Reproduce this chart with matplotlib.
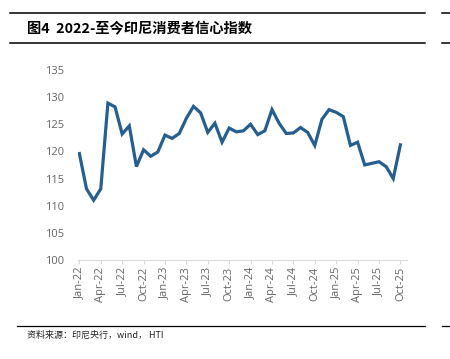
import matplotlib
matplotlib.use("Agg")
import matplotlib.pyplot as plt
from matplotlib.lines import Line2D

plt.rcParams['font.family'] = ['Noto Sans CJK SC', 'DejaVu Sans']

LINE = "#255e91"
GRAY = "#666666"

# Indonesia consumer confidence index, monthly Jan-22 .. Oct-25
months = ["Jan-22", "Feb-22", "Mar-22", "Apr-22", "May-22", "Jun-22", "Jul-22", "Aug-22",
          "Sep-22", "Oct-22", "Nov-22", "Dec-22", "Jan-23", "Feb-23", "Mar-23", "Apr-23",
          "May-23", "Jun-23", "Jul-23", "Aug-23", "Sep-23", "Oct-23", "Nov-23", "Dec-23",
          "Jan-24", "Feb-24", "Mar-24", "Apr-24", "May-24", "Jun-24", "Jul-24", "Aug-24",
          "Sep-24", "Oct-24", "Nov-24", "Dec-24", "Jan-25", "Feb-25", "Mar-25", "Apr-25",
          "May-25", "Jun-25", "Jul-25", "Aug-25", "Sep-25", "Oct-25"]
cci = [119.6, 113.1, 111.0, 113.1, 128.9, 128.2, 123.2, 124.7, 117.2, 120.3, 119.1, 119.9,
       123.0, 122.4, 123.3, 126.1, 128.3, 127.1, 123.5, 125.2, 121.7, 124.3, 123.6, 123.8,
       125.0, 123.1, 123.8, 127.7, 125.2, 123.3, 123.4, 124.4, 123.5, 121.1, 125.9, 127.7,
       127.2, 126.4, 121.1, 121.7, 117.5, 117.8, 118.1, 117.2, 115.0, 121.2]
y_ticks = [100, 105, 110, 115, 120, 125, 130, 135]

title = "图4  2022-至今印尼消费者信心指数"
source = "资料来源：印尼央行，wind， HTI"

fig = plt.figure(figsize=(4.5, 3.59), dpi=100)
ax = fig.add_axes([0.174, 0.276, 0.730, 0.529])

x = list(range(len(months)))
ax.plot(x, cci, color=LINE, linewidth=2.3, solid_joinstyle="miter")

ax.set_ylim(100, 135)
ax.set_yticks(y_ticks)
ax.set_xlim(-0.15, 45.9)
ax.set_xticks(x[::3])
ax.set_xticklabels(months[::3], rotation=90)

for s in ["top", "right", "left"]:
    ax.spines[s].set_visible(False)
ax.spines["bottom"].set_color("#d9d9d9")
ax.spines["bottom"].set_linewidth(0.8)
ax.tick_params(axis="y", length=0, labelsize=8, labelcolor=GRAY, pad=10)
ax.tick_params(axis="x", length=3, color="#d9d9d9", labelsize=8, labelcolor=GRAY, pad=2)
for lab in ax.get_yticklabels() + ax.get_xticklabels():
    lab.set_family("Open Sans")

# header / footer rules
def hline(y, x0, x1, lw=1.1):
    fig.add_artist(Line2D([x0 / 450, x1 / 450], [1 - y / 359, 1 - y / 359],
                          color="black", linewidth=lw))

hline(13, 10, 425)
hline(43, 10, 425)
hline(13, 442, 450)
hline(43, 442, 450)
hline(326, 17, 425, lw=0.9)
hline(326, 442, 450, lw=0.9)

fig.text(27 / 450, 1 - 29 / 359, title, fontsize=10.3, fontweight="bold",
         va="center", ha="left", color="black")
fig.text(27 / 450, 1 - 335 / 359, source, fontsize=6.5, va="center",
         ha="left", color="#222222")

fig.savefig("out.png", dpi=100)
